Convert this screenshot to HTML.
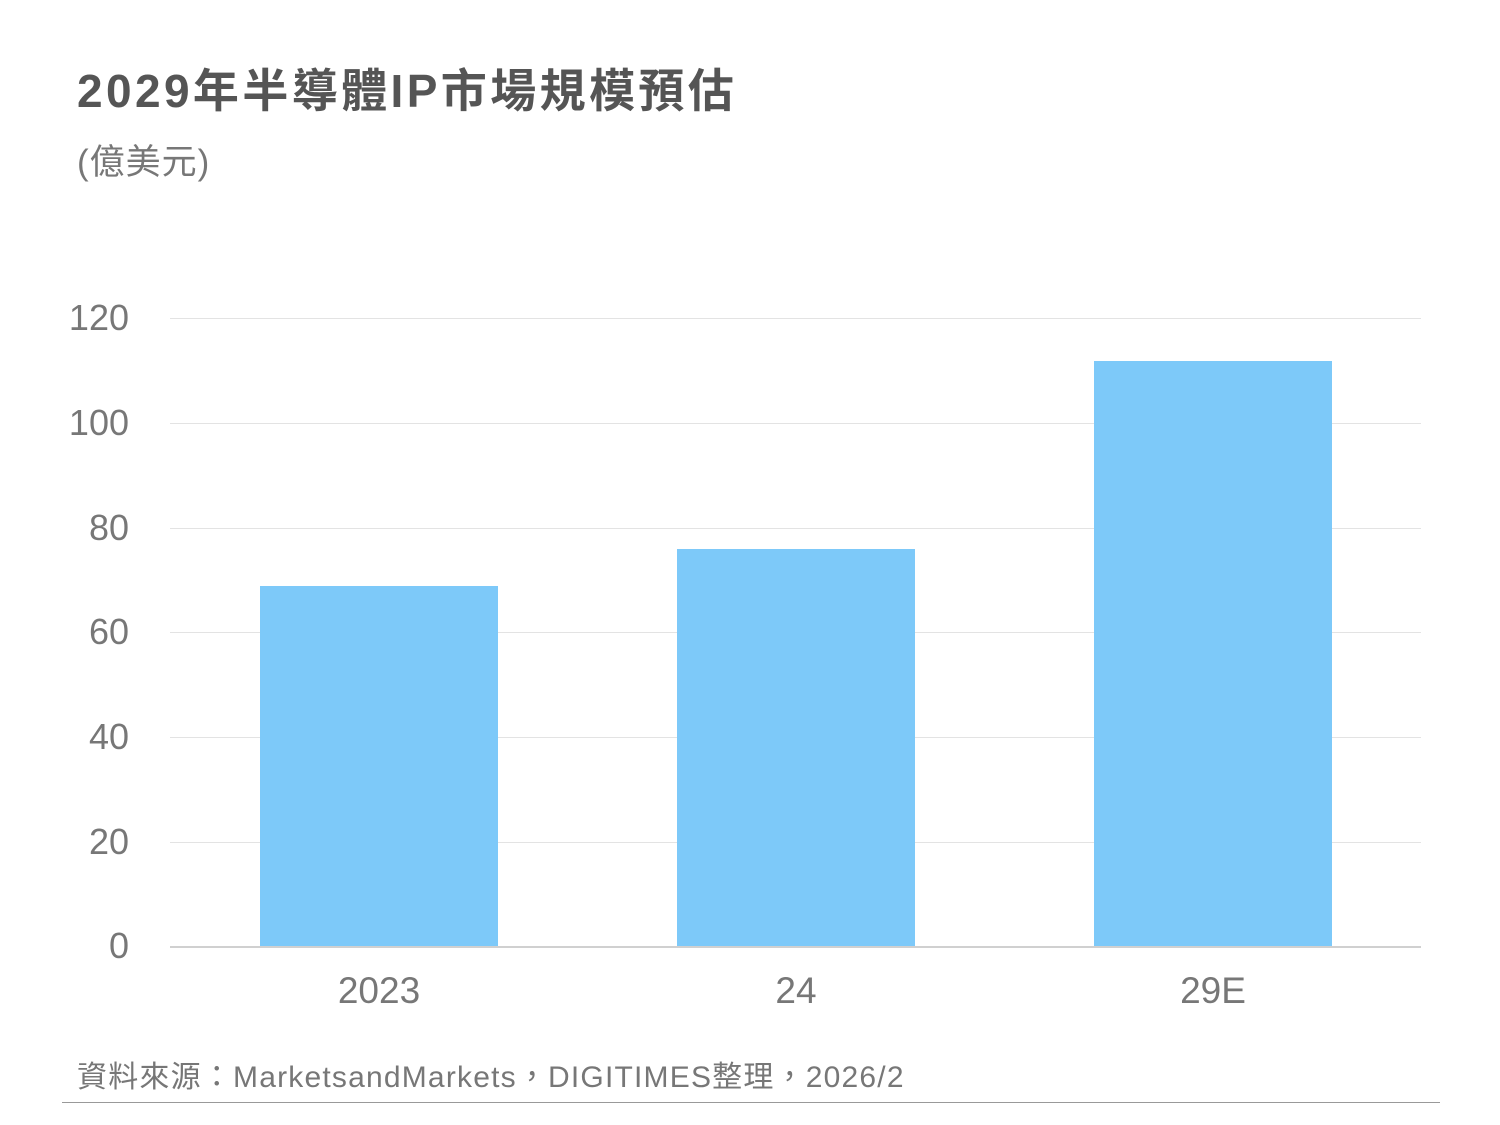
<!DOCTYPE html>
<html><head><meta charset="utf-8"><style>
body{margin:0;background:#fff;}
.w{position:relative;width:1500px;height:1125px;overflow:hidden;font-family:"Liberation Sans","Noto Sans CJK TC",sans-serif;}
.t{position:absolute;left:77px;top:55px;font-size:46px;font-weight:bold;color:#555;white-space:nowrap;letter-spacing:3.4px;}
.s{position:absolute;left:77px;top:134px;font-size:35px;color:#777;white-space:nowrap;letter-spacing:1px;}
.g{position:absolute;left:170px;width:1251px;height:1px;background:#e3e3e3;}
.y{position:absolute;width:129px;left:0;text-align:right;font-size:36px;color:#777;line-height:40px;}
.b{position:absolute;width:238px;background:#7dc9f9;}
.x{position:absolute;width:238px;text-align:center;font-size:37px;color:#777;top:970px;}
.src{position:absolute;left:77px;top:1052px;font-size:30px;color:#777;white-space:nowrap;letter-spacing:1.2px;}
</style></head><body><div class="w">
<div class="t">2029年半導體IP市場規模預估</div>
<div class="s">(億美元)</div>
<div class="g" style="top:318px"></div><div class="g" style="top:423px"></div><div class="g" style="top:528px"></div><div class="g" style="top:632px"></div><div class="g" style="top:737px"></div><div class="g" style="top:842px"></div><div class="g" style="top:946px;background:#d0d0d0;height:2px"></div>
<div class="y" style="top:298px">120</div><div class="y" style="top:403px">100</div><div class="y" style="top:508px">80</div><div class="y" style="top:612px">60</div><div class="y" style="top:717px">40</div><div class="y" style="top:822px">20</div><div class="y" style="top:926px">0</div>
<div class="b" style="left:260px;top:586px;height:360px"></div>
<div class="b" style="left:677px;top:549px;height:397px"></div>
<div class="b" style="left:1094px;top:361px;height:585px"></div>
<div class="x" style="left:260px">2023</div><div class="x" style="left:677px">24</div><div class="x" style="left:1094px">29E</div>
<div class="src">資料來源：MarketsandMarkets，DIGITIMES整理，2026/2</div>
<div style="position:absolute;left:62px;top:1102px;width:1378px;height:1px;background:#999"></div>
</div></body></html>
